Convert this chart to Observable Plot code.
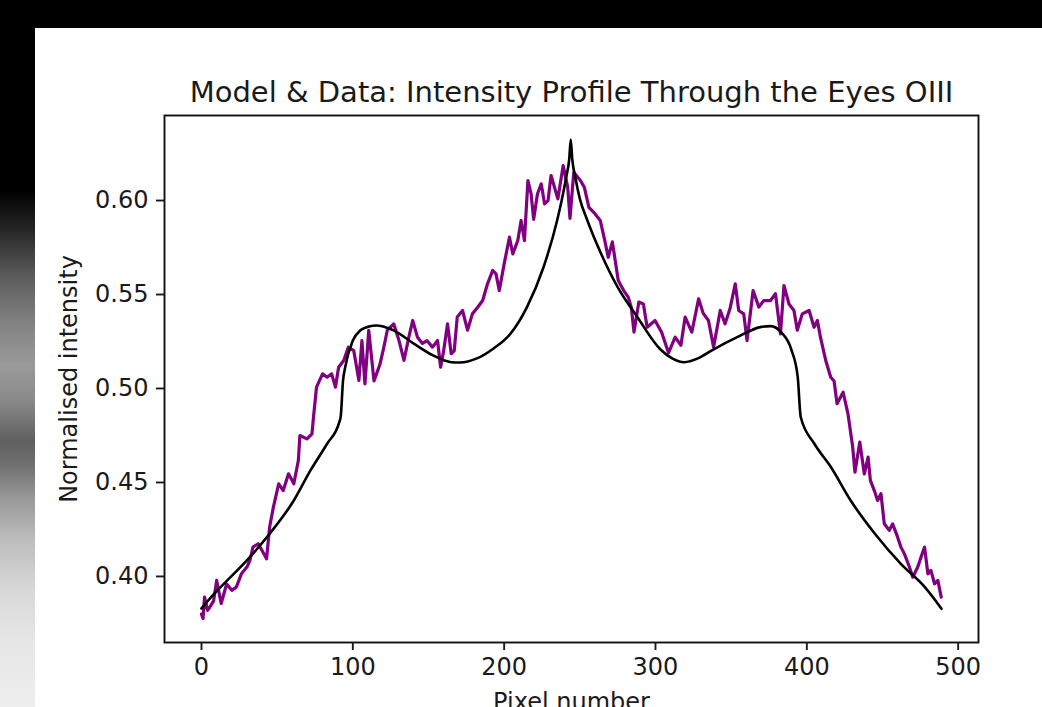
<!DOCTYPE html>
<html>
<head>
<meta charset="utf-8">
<script src="https://cdn.jsdelivr.net/npm/d3@7"></script>
<script src="https://cdn.jsdelivr.net/npm/@observablehq/plot@0.6"></script>
<style>
  html, body { margin: 0; padding: 0; background: #000; width: 1042px; height: 707px; overflow: hidden; }
  #strip { position: absolute; left: 0; top: 0; width: 35px; height: 707px;
    background: linear-gradient(to bottom, #000 0px, #000 190px, #262626 230px, #5a5a5a 275px, #808080 320px, #9a9a9a 365px, #8a8a8a 400px, #606060 440px, #707070 465px, #9a9a9a 500px, #bdbdbd 540px, #d8d8d8 590px, #e6e6e6 640px, #eeeeee 707px); }
  #panel { position: absolute; left: 35px; top: 28px; right: 0; bottom: 0; background: #fff; }
  #chart { position: absolute; left: 0; top: 0; }
</style>
</head>
<body>
<div id="strip"></div>
<div id="panel"></div>
<div id="chart"></div>
<script>
const titleText = "Model & Data: Intensity Profile Through the Eyes OIII";
const xLabel = "Pixel number";
const yLabel = "Normalised intensity";
const xTicks = [0, 100, 200, 300, 400, 500];
const yTicks = [0.40, 0.45, 0.50, 0.55, 0.60];

// Model curve (black)
const modelPixel = [0,8,17,32,45,61,72,83,91,92,93.5,95,100,105,110,116,122,127,140,153,165,171,182,193,204,215,226,235,238,241,243,244,245,247,250,255,264,275,288,303,311,319,328,337,354,370,376,383,390,394,396,405,416,429,445,462,478,489];
const modelIntensity = [0.3830,0.3905,0.3979,0.4103,0.4227,0.4404,0.4564,0.4706,0.4820,0.4850,0.5040,0.5115,0.5255,0.5310,0.5328,0.5335,0.5325,0.5309,0.5240,0.5176,0.5140,0.5138,0.5160,0.5213,0.5290,0.5432,0.5645,0.5894,0.6000,0.6124,0.6220,0.6325,0.6220,0.6124,0.6010,0.5894,0.5718,0.5539,0.5380,0.5210,0.5160,0.5140,0.5160,0.5202,0.5273,0.5328,0.5332,0.5300,0.5202,0.5060,0.4847,0.4706,0.4581,0.4404,0.4227,0.4068,0.3943,0.3828];

// Measured data (purple)
const dataPixel = [0,1,2,4,5.5,8,10,13,16.6,20,23,26.5,30,32,34,37.5,40,43,45,47.5,51,54,57.5,61,64,65,69.7,73,74,76,80,83,86,88.5,90.6,94,97,100.6,104,106,108,110.5,114,118,120.5,122.8,127,130.5,133.8,137,139.6,142.7,146,149,152.6,156,158,160,162.6,165,167,169,172.5,175.8,179,182.5,185.8,189,192.4,194.6,196.8,200,203.5,205.7,209,211.2,213.4,215.7,217.8,219.5,222,224.5,226.7,229,231,235.5,239,242,243.5,246,250.5,253,256,260,263.5,266.5,268.8,271.5,275.4,279,282,284,285.8,289,292,294.5,299.7,304,308.6,313,316.8,319.6,324,328.5,331.5,335,338.4,342.8,346,349.4,352.7,355,358.3,360.5,364.5,368.3,371.6,376,379.3,382.6,384.9,388.2,391.5,393.7,397,401.5,404.8,407,409,412.5,415.8,418,420,424,427.2,430.3,431.8,435,438,440.5,442,444.6,446.8,449,451.2,454.5,456.7,460,462.2,464.5,467.8,470,473.3,475.5,477.8,480,482,484.4,486.6,488.8];
const dataIntensity = [0.3800,0.3776,0.3890,0.3820,0.3837,0.3870,0.3979,0.3856,0.3960,0.3926,0.3943,0.4016,0.4050,0.4085,0.4156,0.4174,0.4138,0.4094,0.4262,0.4369,0.4493,0.4457,0.4546,0.4493,0.4617,0.4750,0.4732,0.4759,0.4847,0.5007,0.5078,0.5060,0.5078,0.5007,0.5113,0.5149,0.5220,0.5202,0.5043,0.5255,0.5025,0.5309,0.5040,0.5131,0.5220,0.5310,0.5344,0.5255,0.5150,0.5273,0.5362,0.5273,0.5240,0.5255,0.5220,0.5255,0.5113,0.5200,0.5344,0.5185,0.5200,0.5380,0.5415,0.5310,0.5397,0.5432,0.5468,0.5557,0.5628,0.5610,0.5521,0.5663,0.5805,0.5716,0.5787,0.5894,0.5787,0.6106,0.6035,0.5900,0.6035,0.6089,0.5982,0.6000,0.6133,0.6009,0.6186,0.6070,0.5905,0.6150,0.6105,0.6070,0.5964,0.5930,0.5894,0.5787,0.5698,0.5780,0.5574,0.5521,0.5486,0.5433,0.5300,0.5460,0.5450,0.5326,0.5362,0.5300,0.5190,0.5273,0.5230,0.5380,0.5300,0.5477,0.5400,0.5362,0.5220,0.5415,0.5344,0.5430,0.5557,0.5415,0.5397,0.5255,0.5521,0.5433,0.5468,0.5468,0.5504,0.5290,0.5548,0.5450,0.5415,0.5310,0.5397,0.5415,0.5326,0.5362,0.5273,0.5149,0.5060,0.5040,0.4919,0.4980,0.4865,0.4690,0.4555,0.4715,0.4545,0.4635,0.4511,0.4457,0.4404,0.4440,0.4280,0.4245,0.4280,0.4209,0.4156,0.4120,0.4050,0.3996,0.4050,0.4103,0.4156,0.4014,0.4032,0.3961,0.3979,0.3890];

const model = modelPixel.map((x, i) => ({x, y: modelIntensity[i]}));
const data = dataPixel.map((x, i) => ({x, y: dataIntensity[i]}));

// matplotlib-style 5% margins
function pad(ext) { const d = (ext[1] - ext[0]) * 0.05; return [ext[0] - d, ext[1] + d]; }
const xDomain = pad(d3.extent([...modelPixel, ...dataPixel]));
const yDomain = pad(d3.extent([...modelIntensity, ...dataIntensity]));

const font = "DejaVu Sans";
const chart = Plot.plot({
  width: 1042,
  height: 707,
  marginLeft: 164,
  marginRight: 64,
  marginTop: 115,
  marginBottom: 65,
  style: {fontFamily: font, fontSize: "24px", color: "#1a1a1a", background: "transparent", overflow: "visible"},
  x: {domain: xDomain},
  y: {domain: yDomain},
  marks: [
    Plot.line(data, {x: "x", y: "y", stroke: "#800080", strokeWidth: 3.2, strokeLinejoin: "round"}),
    Plot.line(model, {x: "x", y: "y", stroke: "black", strokeWidth: 2.6, curve: "monotone-x"}),
    Plot.frame({stroke: "#111", strokeWidth: 1.9}),
    Plot.axisX({ticks: xTicks, tickSize: 8, tickPadding: 7, strokeWidth: 1.9, fontSize: 24, label: null, tickFormat: d3.format("d")}),
    Plot.axisY({ticks: yTicks, tickSize: 8, tickPadding: 8, strokeWidth: 1.9, fontSize: 24, label: null, tickFormat: d3.format(".2f")}),
    Plot.text([titleText], {frameAnchor: "top", dy: -14, lineAnchor: "bottom", fontSize: 29, fill: "#1a1a1a"}),
    Plot.text([xLabel], {frameAnchor: "bottom", dy: 67, lineAnchor: "bottom", fontSize: 24, fill: "#1a1a1a"}),
    Plot.text([yLabel], {frameAnchor: "left", dx: -95, rotate: -90, textAnchor: "middle", fontSize: 24, fill: "#1a1a1a"})
  ]
});
document.getElementById("chart").appendChild(chart);
</script>
</body>
</html>
